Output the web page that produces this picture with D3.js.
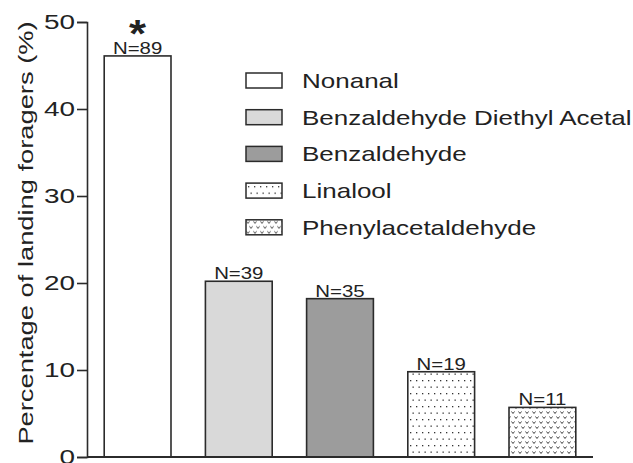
<!DOCTYPE html>
<html>
<head>
<meta charset="utf-8">
<script src="https://cdn.jsdelivr.net/npm/d3@7"></script>
<style>
body { margin: 0; background: #fff; }
text { font-family: "Liberation Sans", Arial, sans-serif; fill: #222; }
</style>
</head>
<body>
<div id="divbody"></div>
<script>
var categories = ["Nonanal", "Benzaldehyde Diethyl Acetal", "Benzaldehyde", "Linalool", "Phenylacetaldehyde"];
var values = [46.1, 20.2, 18.2, 9.8, 5.7];
var counts = ["N=89", "N=39", "N=35", "N=19", "N=11"];
var fills = ["#ffffff", "#d9d9d9", "#9c9c9c", "url(#dots)", "url(#hearts)"];
var yTicks = [0, 10, 20, 30, 40, 50];

var width = 633, height = 463;
var ink = "#2b2b2b";
// the original figure's lettering is stretched sideways
var stretch = 1.3;

var svg = d3.select("#divbody").append("svg")
	.attr("width", width)
	.attr("height", height);

var defs = svg.append("defs");
var dots = defs.append("pattern")
	.attr("id", "dots")
	.attr("patternUnits", "userSpaceOnUse")
	.attr("width", 6).attr("height", 13);
dots.append("rect").attr("width", 6).attr("height", 13).attr("fill", "#fff");
dots.append("rect").attr("x", 2).attr("y", 3).attr("width", 1.3).attr("height", 1.3).attr("fill", "#333");
dots.append("rect").attr("x", 4.5).attr("y", 9.5).attr("width", 1.3).attr("height", 1.3).attr("fill", "#333");

var hearts = defs.append("pattern")
	.attr("id", "hearts")
	.attr("patternUnits", "userSpaceOnUse")
	.attr("width", 7).attr("height", 10);
hearts.append("rect").attr("width", 7).attr("height", 10).attr("fill", "#fff");
hearts.append("path").attr("d", "M0.5,1.5 L2,3.5 L3.5,1.5 M3.5,6.5 L5,8.5 L6.5,6.5")
	.attr("stroke", "#444").attr("stroke-width", 1).attr("fill", "none");

var x = d3.scaleBand()
	.domain(categories)
	.range([87, 593])
	.paddingInner(0.34)
	.paddingOuter(0.17);

var y = d3.scaleLinear()
	.domain([0, 50])
	.range([457, 22]);

// bars
svg.selectAll("rect.bar")
	.data(categories)
	.enter()
	.append("rect")
	.attr("class", "bar")
	.attr("x", function(d){ return x(d); })
	.attr("y", function(d, i){ return y(values[i]); })
	.attr("width", x.bandwidth())
	.attr("height", function(d, i){ return y(0) - y(values[i]); })
	.attr("fill", function(d, i){ return fills[i]; })
	.attr("stroke", ink)
	.attr("stroke-width", 1.6);

svg.selectAll("text.n")
	.data(categories)
	.enter()
	.append("text")
	.attr("class", "n")
	.attr("transform", function(d, i){
		return "translate(" + (x(d) + x.bandwidth() / 2) + "," + (y(values[i]) - 2) + ") scale(1.2,1)";
	})
	.attr("text-anchor", "middle")
	.attr("font-size", 17)
	.text(function(d, i){ return counts[i]; });

svg.append("text")
	.attr("transform", "translate(" + (x(categories[0]) + x.bandwidth() / 2) + ",47) scale(1.15,1)")
	.attr("text-anchor", "middle")
	.attr("font-size", 38)
	.attr("font-weight", "bold")
	.text("*");

// axes
var yAxis = svg.append("g")
	.attr("transform", "translate(87,0)")
	.call(d3.axisLeft(y).tickValues(yTicks).tickSize(10).tickPadding(2));
yAxis.select(".domain").attr("stroke", ink).attr("stroke-width", 1.6);
yAxis.selectAll(".tick line").attr("stroke", ink).attr("stroke-width", 1.6);
yAxis.selectAll(".tick text")
	.attr("font-size", 21).attr("fill", "#222")
	.attr("font-family", "Liberation Sans, Arial, sans-serif")
	.attr("transform", "scale(1.33,1)")
	.attr("x", -12 / 1.33);

svg.append("line")
	.attr("x1", 87).attr("x2", 593)
	.attr("y1", y(0)).attr("y2", y(0))
	.attr("stroke", ink).attr("stroke-width", 1.8);

svg.append("text")
	.attr("transform", "translate(33,233) rotate(-90) scale(1.3,1)")
	.attr("text-anchor", "middle")
	.attr("font-size", 21)
	.text("Percentage of landing foragers (%)");

// legend
var legend = svg.selectAll("g.legend")
	.data(categories)
	.enter()
	.append("g")
	.attr("class", "legend")
	.attr("transform", function(d, i){ return "translate(246," + (73 + i * 36.7) + ")"; });
legend.append("rect")
	.attr("width", 36).attr("height", 15)
	.attr("fill", function(d, i){ return fills[i]; })
	.attr("stroke", ink)
	.attr("stroke-width", 1.5);
legend.append("text")
	.attr("transform", "translate(56,15) scale(" + stretch + ",1)")
	.attr("font-size", 20)
	.text(function(d){ return d; });
</script>
</body>
</html>
